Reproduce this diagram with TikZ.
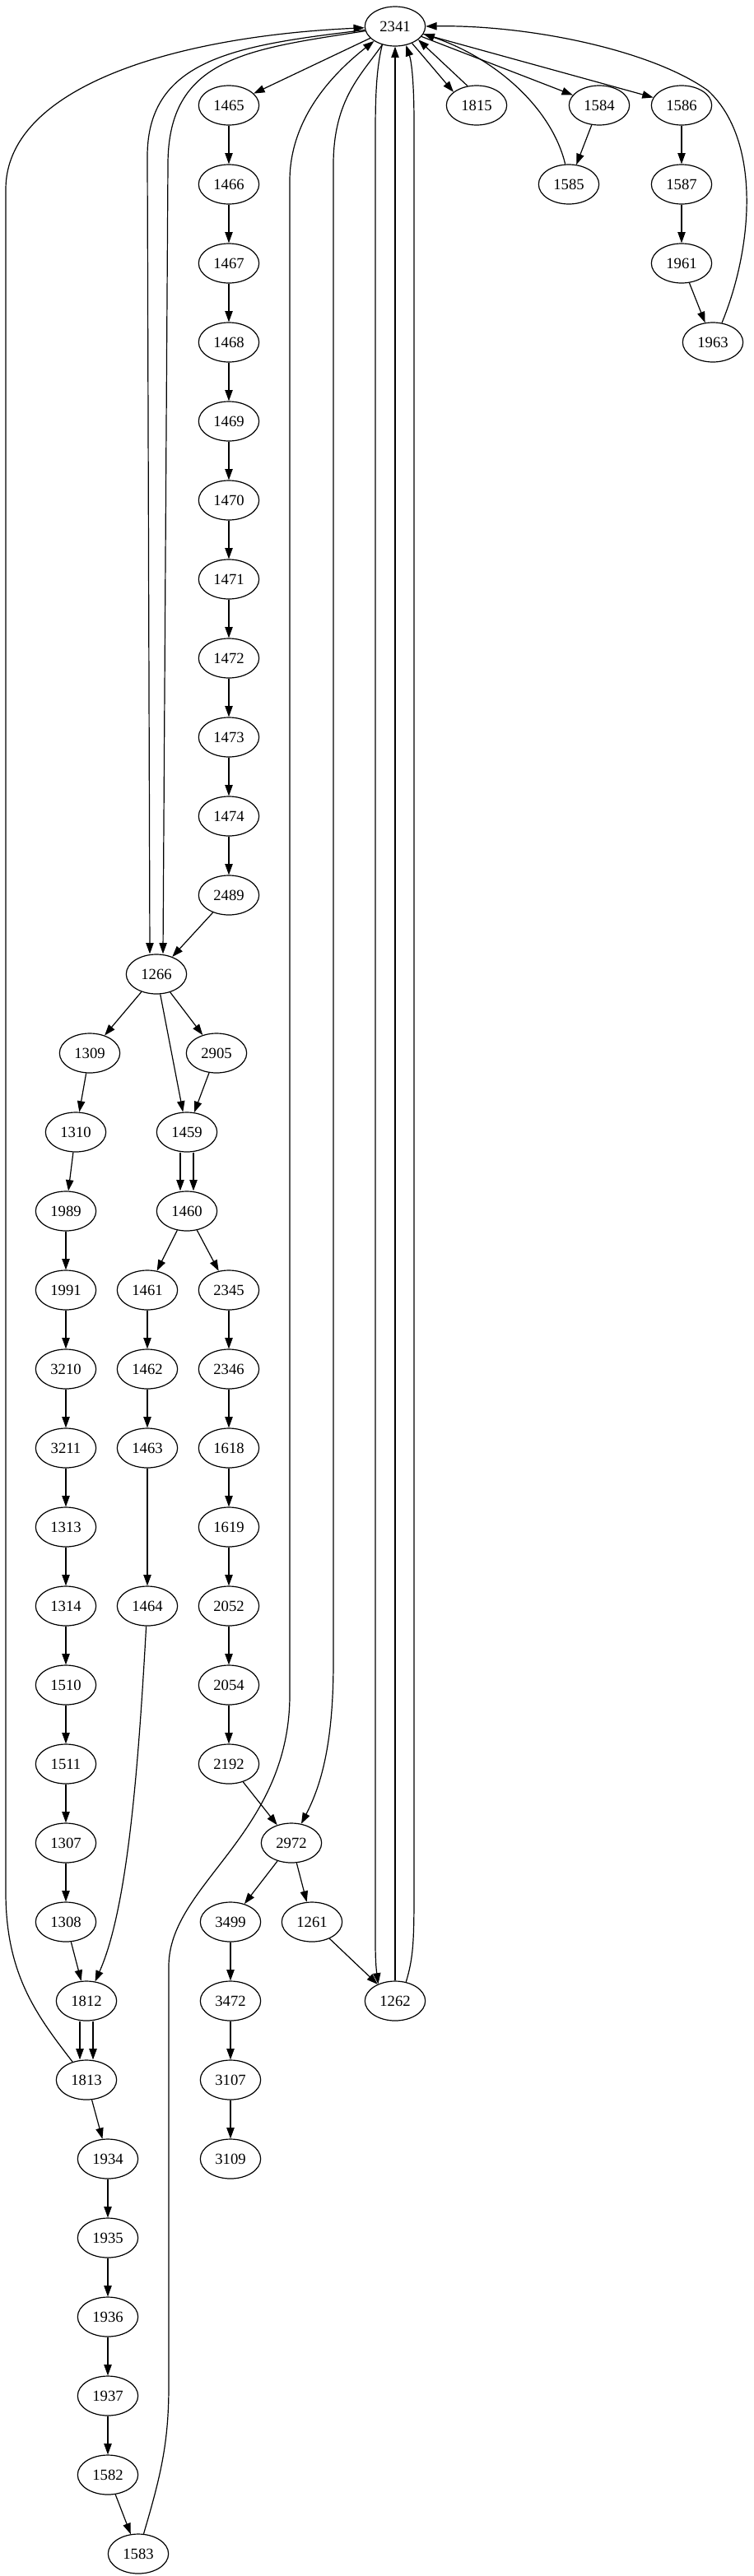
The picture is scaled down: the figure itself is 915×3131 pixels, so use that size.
\documentclass[tikz,border=0pt]{standalone}
\usepackage{fontspec}
\setmainfont{Liberation Serif}
\usepackage{tikz}
\usetikzlibrary{arrows.meta,shapes,positioning}
\tikzstyle{vertex} = [ellipse, draw, line width=0.9pt, minimum width=55pt, minimum height=36pt, inner sep=0pt, font=\fontsize{14}{16}\selectfont]
\tikzstyle{arrow} = [line width=0.9pt, -{Triangle[length=10pt,width=7pt]}]

\begin{document}
\begin{tikzpicture}[x=0.75pt, y=-0.75pt]
\useasboundingbox (0,0) rectangle (915,3131);

% Top node and first rank
\node[vertex] (n2341) at (480,32) {2341};
\node[vertex] (n1465) at (278,128) {1465};
\node[vertex] (n1815) at (579,128) {1815};
\node[vertex] (n1584) at (728,128) {1584};
\node[vertex] (n1586) at (828,128) {1586};

% Right branches
\node[vertex] (n1585) at (691,224) {1585};
\node[vertex] (n1587) at (828,224) {1587};
\node[vertex] (n1961) at (828,320) {1961};
\node[vertex] (n1963) at (866,416) {1963};

% Long chain
\node[vertex] (n1466) at (278,224) {1466};
\node[vertex] (n1467) at (278,320) {1467};
\node[vertex] (n1468) at (278,416) {1468};
\node[vertex] (n1469) at (278,512) {1469};
\node[vertex] (n1470) at (278,608) {1470};
\node[vertex] (n1471) at (278,704) {1471};
\node[vertex] (n1472) at (278,800) {1472};
\node[vertex] (n1473) at (278,896) {1473};
\node[vertex] (n1474) at (278,992) {1474};
\node[vertex] (n2489) at (278,1088) {2489};
\node[vertex] (n1266) at (190,1184) {1266};

% Left column
\node[vertex] (n1309) at (109,1280) {1309};
\node[vertex] (n1310) at (92,1376) {1310};
\node[vertex] (n1989) at (80,1472) {1989};
\node[vertex] (n1991) at (80,1568) {1991};
\node[vertex] (n3210) at (80,1664) {3210};
\node[vertex] (n3211) at (80,1760) {3211};
\node[vertex] (n1313) at (80,1856) {1313};
\node[vertex] (n1314) at (80,1952) {1314};
\node[vertex] (n1510) at (80,2048) {1510};
\node[vertex] (n1511) at (80,2144) {1511};
\node[vertex] (n1307) at (80,2240) {1307};
\node[vertex] (n1308) at (80,2336) {1308};
\node[vertex] (n1812) at (105,2432) {1812};
\node[vertex] (n1813) at (105,2528) {1813};
\node[vertex] (n1934) at (131,2624) {1934};
\node[vertex] (n1935) at (131,2720) {1935};
\node[vertex] (n1936) at (131,2816) {1936};
\node[vertex] (n1937) at (131,2912) {1937};
\node[vertex] (n1582) at (131,3008) {1582};
\node[vertex] (n1583) at (168,3104) {1583};

% Middle columns
\node[vertex] (n2905) at (263,1280) {2905};
\node[vertex] (n1459) at (227,1376) {1459};
\node[vertex] (n1460) at (227,1472) {1460};
\node[vertex] (n1461) at (179,1568) {1461};
\node[vertex] (n1462) at (179,1664) {1462};
\node[vertex] (n1463) at (179,1760) {1463};
\node[vertex] (n1464) at (179,1952) {1464};
\node[vertex] (n2345) at (278,1568) {2345};
\node[vertex] (n2346) at (278,1664) {2346};
\node[vertex] (n1618) at (278,1760) {1618};
\node[vertex] (n1619) at (278,1856) {1619};
\node[vertex] (n2052) at (278,1952) {2052};
\node[vertex] (n2054) at (278,2048) {2054};
\node[vertex] (n2192) at (278,2144) {2192};
\node[vertex] (n2972) at (354,2240) {2972};
\node[vertex] (n3499) at (280,2336) {3499};
\node[vertex] (n3472) at (280,2432) {3472};
\node[vertex] (n3107) at (280,2528) {3107};
\node[vertex] (n3109) at (280,2624) {3109};
\node[vertex] (n1261) at (379,2336) {1261};
\node[vertex] (n1262) at (480,2432) {1262};

% Connections from the top
\draw[arrow] (n2341) -- (n1465);
\draw[arrow] (n2341.-45) -- (n1815.150);
\draw[arrow] (n1815.115) -- (n2341.-30);
\draw[arrow] (n2341) -- (n1584);
\draw[arrow] (n2341) -- (n1586);
\draw[arrow] (n1584) -- (n1585);
\draw[arrow] (n1585.100) .. controls (670,130) and (600,70) .. (n2341.-15);
\draw[arrow] (n1586) -- (n1587);
\draw[arrow] (n1587) -- (n1961);
\draw[arrow] (n1961) -- (n1963);
\draw[arrow] (n1963.65) .. controls (915,300) and (925,170) .. (860,110) .. controls (790,60) and (640,30) .. (n2341.east);

% Chain down to 1266
\draw[arrow] (n1465) -- (n1466);
\draw[arrow] (n1466) -- (n1467);
\draw[arrow] (n1467) -- (n1468);
\draw[arrow] (n1468) -- (n1469);
\draw[arrow] (n1469) -- (n1470);
\draw[arrow] (n1470) -- (n1471);
\draw[arrow] (n1471) -- (n1472);
\draw[arrow] (n1472) -- (n1473);
\draw[arrow] (n1473) -- (n1474);
\draw[arrow] (n1474) -- (n2489);
\draw[arrow] (n2489) -- (n1266);
\draw[arrow] (n2341) .. controls (290,55) and (179,70) .. (179,190) -- ([xshift=-6pt]n1266.north);
\draw[arrow] (n2341) .. controls (300,60) and (204,70) .. (204,200) -- ([xshift=6pt]n1266.north);

% Below 1266
\draw[arrow] (n1266) -- (n1309);
\draw[arrow] (n1266) -- (n2905);
\draw[arrow] (n1266) -- (n1459);
\draw[arrow] (n2905) -- (n1459);
\draw[arrow] ([xshift=-6pt]n1459.south) -- ([xshift=-6pt]n1460.north);
\draw[arrow] ([xshift=6pt]n1459.south) -- ([xshift=6pt]n1460.north);
\draw[arrow] (n1460) -- (n1461);
\draw[arrow] (n1460) -- (n2345);
\draw[arrow] (n1461) -- (n1462);
\draw[arrow] (n1462) -- (n1463);
\draw[arrow] (n1463) -- (n1464);
\draw[arrow] (n1464) .. controls (168,2150) and (155,2320) .. (n1812);
\draw[arrow] (n2345) -- (n2346);
\draw[arrow] (n2346) -- (n1618);
\draw[arrow] (n1618) -- (n1619);
\draw[arrow] (n1619) -- (n2052);
\draw[arrow] (n2052) -- (n2054);
\draw[arrow] (n2054) -- (n2192);
\draw[arrow] (n2192) -- (n2972);
\draw[arrow] (n2972) -- (n3499);
\draw[arrow] (n2972) -- (n1261);
\draw[arrow] (n3499) -- (n3472);
\draw[arrow] (n3472) -- (n3107);
\draw[arrow] (n3107) -- (n3109);
\draw[arrow] (n1261) -- (n1262);

% Left column connections
\draw[arrow] (n1309) -- (n1310);
\draw[arrow] (n1310) -- (n1989);
\draw[arrow] (n1989) -- (n1991);
\draw[arrow] (n1991) -- (n3210);
\draw[arrow] (n3210) -- (n3211);
\draw[arrow] (n3211) -- (n1313);
\draw[arrow] (n1313) -- (n1314);
\draw[arrow] (n1314) -- (n1510);
\draw[arrow] (n1510) -- (n1511);
\draw[arrow] (n1511) -- (n1307);
\draw[arrow] (n1307) -- (n1308);
\draw[arrow] (n1308) -- (n1812);
\draw[arrow] ([xshift=-6pt]n1812.south) -- ([xshift=-6pt]n1813.north);
\draw[arrow] ([xshift=6pt]n1812.south) -- ([xshift=6pt]n1813.north);
\draw[arrow] (n1813) -- (n1934);
\draw[arrow] (n1934) -- (n1935);
\draw[arrow] (n1935) -- (n1936);
\draw[arrow] (n1936) -- (n1937);
\draw[arrow] (n1937) -- (n1582);
\draw[arrow] (n1582) -- (n1583);

% Long back edges
\draw[arrow] (n1813) .. controls (45,2450) and (7,2400) .. (7,2300) -- (7,230) .. controls (7,110) and (200,45) .. (n2341);
\draw[arrow] (n1583.75) .. controls (195,3010) and (205,2970) .. (205,2900) -- (205,2390) .. controls (205,2290) and (352,2230) .. (352,2060) -- (352,220) .. controls (352,140) and (410,85) .. (n2341.-145);
\draw[arrow] (n2341.-125) .. controls (440,90) and (405,120) .. (405,200) -- (405,2020) .. controls (405,2120) and (390,2170) .. (n2972);
\draw[arrow] (n2341.-125) .. controls (458,80) and (456,110) .. (456,160) -- (456,2360) .. controls (456,2390) and (458,2400) .. (n1262.135);
\draw[arrow] (n1262) -- (n2341);
\draw[arrow] (n1262.60) .. controls (502,2380) and (503,2360) .. (503,2300) -- (503,150) .. controls (503,100) and (500,75) .. (n2341.-60);
\end{tikzpicture}
\end{document}
